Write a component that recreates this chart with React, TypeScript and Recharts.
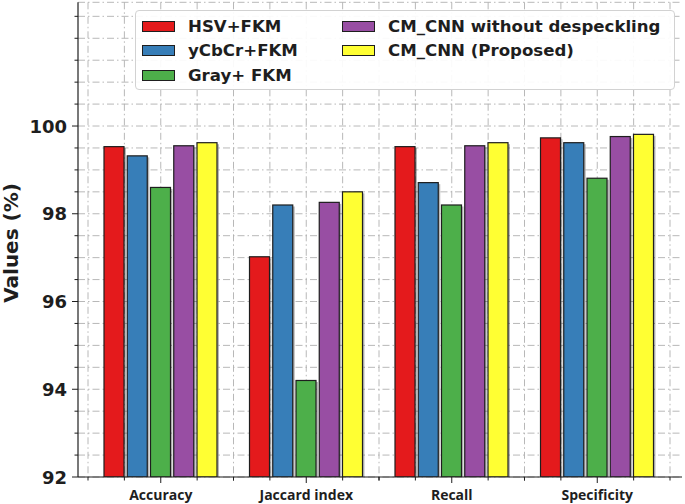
import React from "react";
import { BarChart, Bar, XAxis, YAxis, CartesianGrid, Legend } from "recharts";

const categories = ["Accuracy", "Jaccard index", "Recall", "Specificity"];
const seriesNames = [
  "HSV+FKM",
  "yCbCr+FKM",
  "Gray+ FKM",
  "CM_CNN without despeckling",
  "CM_CNN (Proposed)",
];
const seriesColors = ["#e41a1c", "#377eb8", "#4daf4a", "#984ea3", "#ffff33"];

const hsvFkm = [99.53, 97.02, 99.53, 99.73];
const ycbcrFkm = [99.32, 98.2, 98.71, 99.62];
const grayFkm = [98.6, 94.2, 98.2, 98.81];
const cmCnnNoDespeckle = [99.55, 98.26, 99.55, 99.76];
const cmCnnProposed = [99.62, 98.5, 99.62, 99.81];

const yTicks = [
  92, 92.5, 93, 93.5, 94, 94.5, 95, 95.5, 96, 96.5, 97, 97.5, 98, 98.5, 99, 99.5,
  100, 100.5, 101, 101.5, 102, 102.5,
];
const yLabelTicks = [92, 94, 96, 98, 100];
const yDomain = [92, 102.82];

const seriesValues = [hsvFkm, ycbcrFkm, grayFkm, cmCnnNoDespeckle, cmCnnProposed];

const data = categories.map((name, i) => {
  const row: Record<string, string | number> = { name };
  seriesValues.forEach((vals, s) => {
    row[`s${s}`] = vals[i];
  });
  return row;
});

const PAD_L = 10;
const PAD_R = 12;
const INK = "#1e1e1e";
const GRID = "#b0b0b0";

const YTick = (props: any) => {
  const { x, y, payload } = props;
  const major = yLabelTicks.includes(payload.value);
  return (
    <g>
      <line x1={x} x2={x - (major ? 6 : 3.5)} y1={y} y2={y} stroke={INK} strokeWidth={1} />
      {major && (
        <text
          x={x - 11}
          y={y}
          textAnchor="end"
          dominantBaseline="central"
          fontFamily="DejaVu Sans"
          fontWeight="bold"
          fontSize={18}
          fill={INK}
        >
          {payload.value}
        </text>
      )}
    </g>
  );
};

const XTick = (props: any) => {
  const { x, y, payload } = props;
  const half = payload.offset ?? 72.7;
  return (
    <g>
      {[-1, -0.5, 0.5, 1].map((k) => (
        <line
          key={k}
          x1={x + k * half}
          x2={x + k * half}
          y1={y}
          y2={y + 3.5}
          stroke={INK}
          strokeWidth={1}
        />
      ))}
      <line x1={x} x2={x} y1={y} y2={y + 6} stroke={INK} strokeWidth={1} />
      <text
        x={x}
        y={y + 17}
        textAnchor="middle"
        dominantBaseline="central"
        fontFamily="Open Sans"
        fontWeight="bold"
        fontSize={14}
        fill={INK}
      >
        {payload.value}
      </text>
    </g>
  );
};

const ShadowBar = (props: any) => {
  const { x, y, width, height, fill } = props;
  if (!height || height <= 0) return null;
  return (
    <g>
      <rect x={x + 2} y={y + 1.5} width={width} height={Math.max(0, height - 1.5)} fill="#000" opacity={0.28} />
      <rect x={x} y={y} width={width} height={height} fill={fill} stroke={INK} strokeWidth={1.2} />
    </g>
  );
};

const LegendBox = () => (
  <div
    style={{
      position: "relative",
      width: 540,
      height: 80,
      boxSizing: "border-box",
      border: "1px solid #d2d2d2",
      borderRadius: 4,
      background: "rgba(255,255,255,0.92)",
    }}
  >
    {seriesNames.map((name, i) => {
      const col = i < 3 ? 0 : 1;
      const row = i < 3 ? i : i - 3;
      const cy = 15 + row * 24.5;
      return (
        <div
          key={name}
          style={{
            position: "absolute",
            left: 6 + col * 200,
            top: cy - 12,
            height: 24,
            display: "flex",
            alignItems: "center",
            whiteSpace: "nowrap",
          }}
        >
          <span
            style={{
              display: "inline-block",
              width: 33,
              height: 11,
              background: seriesColors[i],
              border: `1px solid ${INK}`,
              boxSizing: "border-box",
              marginRight: 13,
            }}
          />
          <span
            style={{
              fontFamily: "DejaVu Sans",
              fontWeight: "bold",
              fontSize: 16.6,
              color: INK,
            }}
          >
            {name}
          </span>
        </div>
      );
    })}
  </div>
);

export default function App() {
  return (
    <div style={{ position: "absolute", left: 0, top: 0, width: 685, height: 504, background: "#fff" }}>
      <BarChart
        width={685}
        height={504}
        data={data}
        margin={{ top: 2.3, right: 3, left: 0, bottom: 0 }}
        barGap={3.25}
      >
        <CartesianGrid
          stroke={GRID}
          strokeWidth={0.9}
          strokeDasharray="7 3 1.5 3"
          verticalCoordinatesGenerator={({ offset }: any) => {
            const band = (offset.width - PAD_L - PAD_R) / categories.length;
            const start = offset.left + PAD_L;
            return Array.from({ length: categories.length * 4 + 1 }, (_, k) => start + (band * k) / 4);
          }}
        />
        <XAxis
          dataKey="name"
          padding={{ left: PAD_L, right: PAD_R }}
          height={27}
          interval={0}
          tickSize={0}
          tickMargin={0}
          tickLine={false}
          axisLine={{ stroke: INK, strokeWidth: 1.2 }}
          tick={<XTick />}
        />
        <XAxis
          xAxisId="top"
          orientation="top"
          dataKey="name"
          padding={{ left: PAD_L, right: PAD_R }}
          height={0}
          tick={false}
          tickLine={false}
          axisLine={{ stroke: INK, strokeWidth: 1.2 }}
        />
        <YAxis
          type="number"
          domain={yDomain}
          allowDataOverflow
          ticks={yTicks}
          interval={0}
          width={78}
          tickSize={0}
          tickMargin={0}
          tickLine={false}
          axisLine={{ stroke: INK, strokeWidth: 1.2 }}
          tick={<YTick />}
          label={{
            content: () => (
              <text
                x={11}
                y={243}
                transform="rotate(-90 11 243)"
                textAnchor="middle"
                dominantBaseline="central"
                fontFamily="DejaVu Sans"
                fontWeight="bold"
                fontSize={20}
                fill={INK}
              >
                Values (%)
              </text>
            ),
          }}
        />
        <YAxis
          yAxisId="right"
          orientation="right"
          type="number"
          domain={yDomain}
          allowDataOverflow
          width={0}
          tick={false}
          tickLine={false}
          axisLine={{ stroke: INK, strokeWidth: 1.2 }}
        />
        <Legend
          layout="vertical"
          align="center"
          verticalAlign="middle"
          content={<LegendBox />}
          wrapperStyle={{ left: 135, top: 10, width: 540, height: 80 }}
        />
        {seriesNames.map((name, i) => (
          <Bar
            key={name}
            name={name}
            dataKey={`s${i}`}
            fill={seriesColors[i]}
            barSize={20}
            shape={<ShadowBar />}
            isAnimationActive={false}
          />
        ))}
      </BarChart>
    </div>
  );
}
